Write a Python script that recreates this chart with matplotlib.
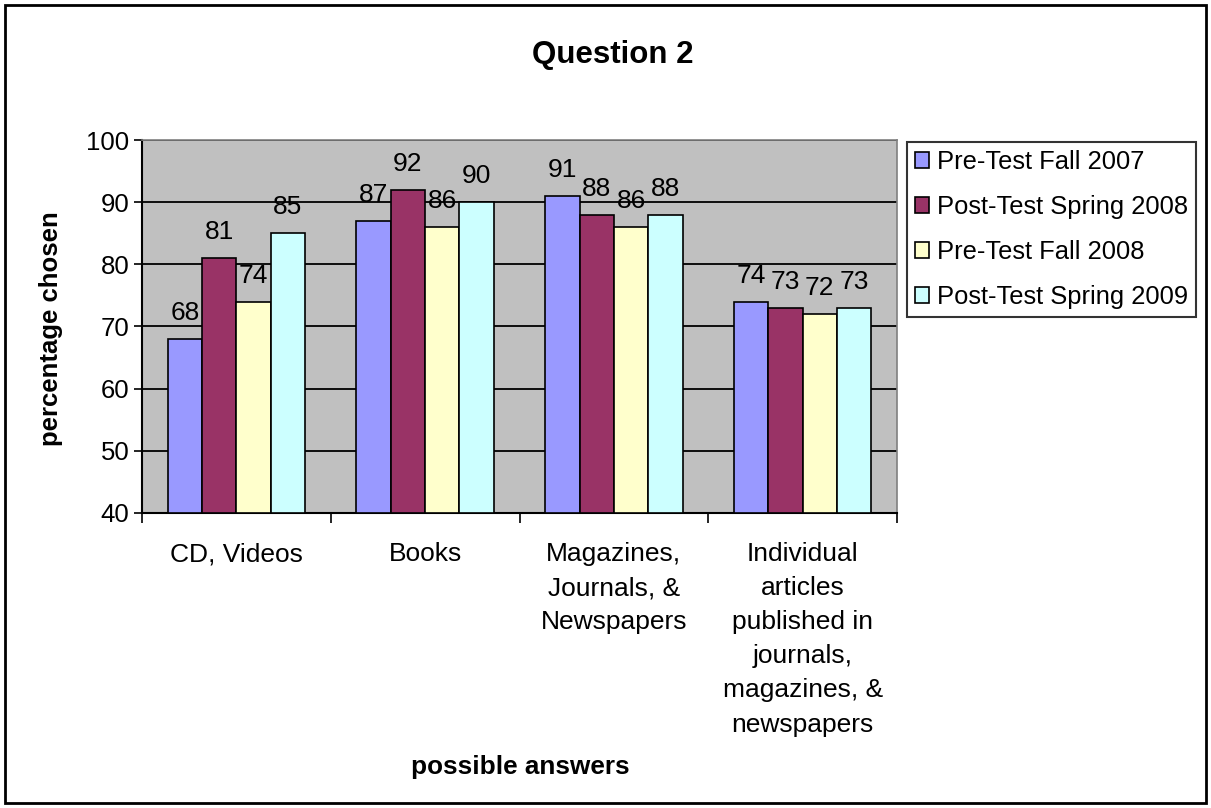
#!/usr/bin/env python3
""" Question 2 grouped bars """
import numpy as np
import matplotlib
matplotlib.use('Agg')
import matplotlib.pyplot as plt
from matplotlib.patches import Rectangle

categories = ['CD, Videos', 'Books', 'Magazines,\nJournals, &\nNewspapers',
              'Individual\narticles\npublished in\njournals,\nmagazines, &\nnewspapers']
series = ['Pre-Test Fall 2007', 'Post-Test Spring 2008',
          'Pre-Test Fall 2008', 'Post-Test Spring 2009']
pre_2007 = [68, 87, 91, 74]
post_2008 = [81, 92, 88, 73]
pre_2008 = [74, 86, 86, 72]
post_2009 = [85, 90, 88, 73]
colors = ['#9999FF', '#993366', '#FFFFCC', '#CCFFFF']


def chart():
    """ Draws the grouped bar chart """
    plt.rcParams['font.family'] = ['Liberation Sans', 'DejaVu Sans']
    fig = plt.figure(figsize=(12.11, 8.08), dpi=100)
    ax = fig.add_axes([142 / 1211, 1 - 513 / 808, 755 / 1211, 373 / 808])
    ax.set_facecolor('#C0C0C0')

    values = [pre_2007, post_2008, pre_2008, post_2009]
    x = np.arange(len(categories))
    w = 1 / 5.5
    for i, (vals, name, col) in enumerate(zip(values, series, colors)):
        pos = x + (i - 1.5) * w
        ax.bar(pos, np.array(vals) - 40, bottom=40, width=w,
               color=col, edgecolor='black', linewidth=1.2,
               label=name, zorder=3)
        for p, v in zip(pos, vals):
            ax.annotate(str(v), (p, v), xytext=(0, 10),
                        textcoords='offset points', ha='center',
                        va='bottom', fontsize=19, zorder=4)

    ax.set_ylim(40, 100)
    ax.set_xlim(-0.5, len(categories) - 0.5)
    ax.set_yticks(np.arange(40, 101, 10))
    ax.yaxis.grid(True, color='black', linewidth=1.3, zorder=0)
    ax.set_axisbelow(True)
    ax.tick_params(axis='y', labelsize=18.5, length=6, width=1.2,
                   direction='out', pad=3)

    ax.set_xticks(x)
    ax.set_xticklabels(categories, fontsize=19, linespacing=1.53, va='top')
    ax.tick_params(axis='x', length=0, pad=21)
    ax.set_xticks(np.arange(-0.5, len(categories)), minor=True)
    ax.tick_params(axis='x', which='minor', length=7, width=1.2)

    for s in ['top', 'right']:
        ax.spines[s].set_color('#808080')
        ax.spines[s].set_linewidth(1.2)
    for s in ['left', 'bottom']:
        ax.spines[s].set_linewidth(1.5)

    fig.text(613 / 1211, 1 - 55 / 808, 'Question 2', ha='center',
             va='center', fontsize=22.5, fontweight='bold')
    fig.text(520 / 1211, 1 - 767 / 808, 'possible answers', ha='center',
             va='center', fontsize=18.8, fontweight='bold')
    fig.text(51 / 1211, 1 - 329 / 808, 'percentage chosen', ha='center',
             va='center', rotation=90, fontsize=18.5, fontweight='bold')

    leg = ax.legend(loc='upper left', bbox_to_anchor=(907 / 1211, 1 - 142 / 808),
                    bbox_transform=fig.transFigure, fontsize=18.4,
                    frameon=True, fancybox=False, edgecolor='black',
                    handlelength=0.55, handleheight=0.55, handletextpad=0.3,
                    labelspacing=0.82, borderpad=0.32, borderaxespad=0)
    leg.get_frame().set_linewidth(1.5)

    fig.patches.append(Rectangle((5 / 1211, 5 / 808), 1201 / 1211, 798 / 808,
                                 transform=fig.transFigure, fill=False,
                                 edgecolor='black', linewidth=2))
    fig.savefig('out.png', dpi=100)


chart()
